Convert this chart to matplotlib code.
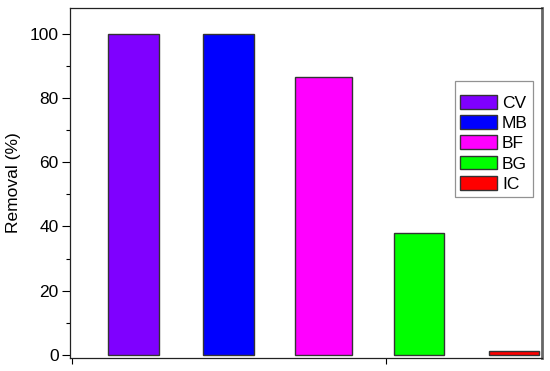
import matplotlib
matplotlib.use("Agg")
import matplotlib.pyplot as plt
import numpy as np

dyes = ["CV", "MB", "BF", "BG", "IC"]
removal = [99.9, 99.8, 86.6, 37.8, 1.3]
colors = ["#7f00ff", "#0000ff", "#ff00ff", "#00ff00", "#ff0000"]

plt.rcParams["font.family"] = ["Liberation Sans", "DejaVu Sans"]

fig = plt.figure(figsize=(5.5, 3.71), dpi=100)
ax = fig.add_axes([0.127, 0.035, 0.8585, 0.943])

x = np.arange(1, len(dyes) + 1)
widths = [0.53, 0.53, 0.6, 0.53, 0.53]
for xi, val, c, w, lab in zip(x, removal, colors, widths, dyes):
    ax.bar(xi, val, width=w, color=c, edgecolor="#333333", linewidth=1.0, label=lab)

ax.set_xlim(0.332, 5.295)
ax.set_ylim(-1, 108)
ax.set_yticks([0, 20, 40, 60, 80, 100])
ax.set_yticks([10, 30, 50, 70, 90], minor=True)
ax.set_xticks([0.35, 3.65])
ax.set_xticklabels([])
ax.tick_params(axis="y", labelsize=12.5, direction="out", length=6, width=0.8, pad=2)
ax.tick_params(axis="y", which="minor", length=3, width=0.8)
ax.tick_params(axis="x", direction="out", length=4, width=0.8)
ax.set_ylabel("Removal (%)", fontsize=12.5, labelpad=6)

for side in ["left", "bottom", "top"]:
    ax.spines[side].set_linewidth(0.9)
    ax.spines[side].set_color("#222222")
ax.spines["right"].set_linewidth(2)
ax.spines["right"].set_color("#666666")

leg = ax.legend(loc="upper left", bbox_to_anchor=(0.816, 0.791), fontsize=12.5,
                title=" ", title_fontsize=3, frameon=True, fancybox=False,
                edgecolor="#777777", handlelength=2.1, handleheight=0.85,
                labelspacing=0.25, handletextpad=0.3, borderpad=0.3,
                borderaxespad=0)
leg.get_frame().set_linewidth(0.9)

fig.savefig("out.png", dpi=100)
